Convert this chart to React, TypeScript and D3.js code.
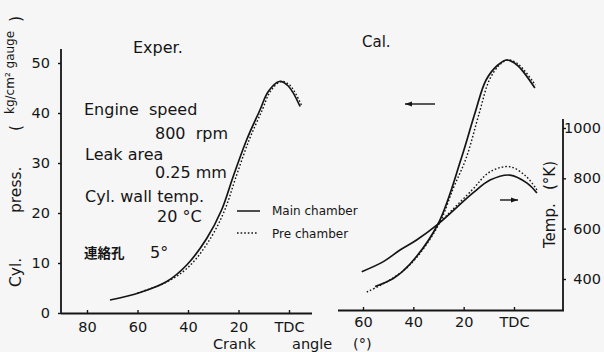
import * as d3 from 'd3'
import { useEffect, useRef } from 'react'

// Exper. (left panel): cylinder pressure vs crank angle (deg BTDC, negative = ATDC)
const expMainAngle = [70.9, 59, 48.4, 40.5, 32.6, 26.7, 22.1, 16.8, 11.5, 8.2, 3.8, 0.3, -4.4]
const expMainPress = [2.6, 4.1, 6.3, 9.6, 14.9, 20.6, 27.3, 34.6, 40.6, 44.3, 46.3, 45.4, 41.3]
const expPreAngle = [60, 48.4, 39.6, 31.5, 25.6, 21, 15.8, 10.6, 7.4, 3.2, -0.3, -4.9]
const expPrePress = [4.0, 6.2, 9.3, 14.6, 20.4, 27.2, 34.6, 40.6, 44.3, 46.3, 45.6, 41.6]

// Cal. (right panel): pressure
const calMainAngle = [55.2, 48, 41.3, 30.2, 20.9, 15.5, 11.1, 6.4, 2.8, -1.2, -8.3]
const calMainPress = [4.7, 6.3, 9.2, 17.2, 30.4, 39.4, 46, 49, 50, 49, 44.4]
const calPreAngle = [58.5, 50, 41, 30, 24, 19, 13.8, 9.8, 5.8, 2.6, -1.4, -8.5]
const calPrePress = [3.6, 5.8, 9.2, 17.0, 24.5, 30.4, 39.4, 46, 49, 50, 49.3, 45]

// Cal. (right panel): temperature (K)
const tempMainAngle = [60.5, 51.9, 45.3, 38.7, 30.2, 16.3, 9.5, 1.6, -5.2, -9.1]
const tempMainK = [429, 469, 515, 555, 618, 742, 793, 813, 781, 742]
const tempPreAngle = [30.2, 17, 9.5, 1.6, -5, -9.1]
const tempPreK = [618, 750, 826, 846, 806, 754]

const pressTicks = [0, 10, 20, 30, 40, 50]
const expAngleTicks = [80, 60, 40, 20, 0]
const calAngleTicks = [60, 40, 20, 0]
const tempTicks = [400, 600, 800, 1000]

const FONT = "'DejaVu Sans', sans-serif"
const INK = '#151515'
const NB = '\u00a0'

function zip(a: number[], b: number[]) {
  return a.map((v, i) => [v, b[i]] as [number, number])
}

function makeChart(node: SVGSVGElement) {
  const svg = d3.select(node)
  svg.selectAll('*').remove()

  svg.append('rect').attr('width', 604).attr('height', 352).attr('fill', '#f6f6f6')

  const xL = d3.scaleLinear().domain([0, 80]).range([289, 87])
  const yL = d3.scaleLinear().domain([0, 50]).range([313, 63])
  const xR = d3.scaleLinear().domain([0, 60]).range([514, 363])
  const yR = d3.scaleLinear().domain([0, 50]).range([310, 60])
  const yT = d3.scaleLinear().domain([400, 1000]).range([279, 128])

  const g = svg.append('g').attr('font-family', FONT).attr('fill', INK)

  // axis lines
  const axisLine = (x1: number, y1: number, x2: number, y2: number) =>
    g.append('line').attr('x1', x1).attr('y1', y1).attr('x2', x2).attr('y2', y2)
      .attr('stroke', INK).attr('stroke-width', 1.8)
  axisLine(61, 313.5, 312, 313.5)
  axisLine(61, 49, 61, 314)
  axisLine(338, 310.5, 564, 310.5)
  axisLine(563, 119, 563, 311)

  const fmtAngle = (d: d3.NumberValue) => (+d === 0 ? 'TDC' : String(d))

  const styleAxis = (sel: d3.Selection<SVGGElement, unknown, null, undefined>) => {
    sel.select('.domain').remove()
    sel.selectAll('line').attr('stroke', INK).attr('stroke-width', 1.4)
    sel.selectAll('text').attr('fill', INK).attr('font-family', FONT).attr('font-size', 14.5)
  }

  g.append('g').attr('transform', 'translate(0,313)')
    .call(d3.axisBottom(xL).tickValues(expAngleTicks).tickSize(-3).tickSizeOuter(0).tickPadding(8.7).tickFormat(fmtAngle))
    .call(styleAxis)
  g.append('g').attr('transform', 'translate(0,310)')
    .call(d3.axisBottom(xR).tickValues(calAngleTicks).tickSize(-3).tickSizeOuter(0).tickPadding(6.7).tickFormat(fmtAngle))
    .call(styleAxis)
  g.append('g').attr('transform', 'translate(61,0)')
    .call(d3.axisLeft(yL).tickValues(pressTicks).tickSize(3).tickSizeOuter(0).tickPadding(8))
    .call(styleAxis)
  const tAx = g.append('g').attr('transform', 'translate(563,0)')
    .call(d3.axisRight(yT).tickValues(tempTicks).tickSize(3).tickSizeOuter(0).tickPadding(3).tickFormat(d3.format('d')))
    .call(styleAxis)
  tAx.selectAll('text').attr('text-anchor', 'end').attr('x', 38)

  // curves
  const lineL = d3.line<[number, number]>().x(d => xL(d[0])).y(d => yL(d[1])).curve(d3.curveCatmullRom.alpha(0.5))
  const lineR = d3.line<[number, number]>().x(d => xR(d[0])).y(d => yR(d[1])).curve(d3.curveCatmullRom.alpha(0.5))
  const lineT = d3.line<[number, number]>().x(d => xR(d[0])).y(d => yT(d[1])).curve(d3.curveCatmullRom.alpha(0.5))

  const curve = (d: string | null, dotted: boolean) =>
    g.append('path').attr('d', d).attr('fill', 'none').attr('stroke', INK)
      .attr('stroke-width', dotted ? 1.4 : 1.7)
      .attr('stroke-dasharray', dotted ? '1.6,2' : null)

  curve(lineL(zip(expMainAngle, expMainPress)), false)
  curve(lineL(zip(expPreAngle, expPrePress)), true)
  curve(lineR(zip(calMainAngle, calMainPress)), false)
  curve(lineR(zip(calPreAngle, calPrePress)), true)
  curve(lineT(zip(tempMainAngle, tempMainK)), false)
  curve(lineT(zip(tempPreAngle, tempPreK)), true)

  // legend
  g.append('line').attr('x1', 237).attr('x2', 260).attr('y1', 211).attr('y2', 211).attr('stroke', INK).attr('stroke-width', 1.5)
  g.append('line').attr('x1', 237).attr('x2', 258).attr('y1', 233).attr('y2', 233).attr('stroke', INK).attr('stroke-width', 1.4).attr('stroke-dasharray', '1.6,2')
  g.append('text').attr('x', 272).attr('y', 215).attr('font-size', 12).text('Main chamber')
  g.append('text').attr('x', 272).attr('y', 238).attr('font-size', 12).text('Pre chamber')

  // arrows
  const arrow = (x1: number, x2: number, y: number) => {
    g.append('line').attr('x1', x1).attr('x2', x2).attr('y1', y).attr('y2', y).attr('stroke', INK).attr('stroke-width', 1.4)
    const s = x2 > x1 ? -1 : 1
    g.append('path').attr('d', `M${x2},${y}L${x2 + s * 7},${y - 2.5}L${x2 + s * 7},${y + 2.5}Z`).attr('fill', INK)
  }
  arrow(435, 405, 104)
  arrow(500, 518, 200)

  // texts
  const txt = (x: number, y: number, s: string, size: number) =>
    g.append('text').attr('x', x).attr('y', y).attr('font-size', size).text(s)
  txt(133, 53, 'Exper.', 16)
  txt(362, 47, 'Cal.', 15)
  txt(84, 115, `Engine${NB} speed`, 16)
  txt(155, 139, `800${NB} rpm`, 16)
  txt(85, 160, 'Leak area', 16)
  txt(155, 178, '0.25 mm', 16)
  txt(85, 202, 'Cyl. wall temp.', 16)
  txt(157, 222, '20 °C', 16)
  g.append('text').attr('x', 84).attr('y', 258).attr('font-size', 13.5).attr('font-weight', 'bold')
    .attr('font-family', "'Noto Sans CJK JP', sans-serif").text('連絡孔')
  txt(150, 258, '5°', 16)

  txt(213, 349, 'Crank', 14.5)
  txt(292, 349, 'angle', 14.5)
  txt(353, 349, '(°)', 14.5)

  // left y label (rotated)
  const yl = g.append('g').attr('transform', 'translate(21,0) rotate(-90)')
  yl.append('text').attr('x', -287).attr('y', 0).attr('font-size', 15.5).text('Cyl.')
  yl.append('text').attr('x', -213).attr('y', 0).attr('font-size', 15.5).text('press.')
  yl.append('text').attr('x', -131).attr('y', 0).attr('font-size', 15.5).text('(')
  yl.append('text').attr('x', -114).attr('y', -7).attr('font-size', 12).text('kg/cm² gauge')
  yl.append('text').attr('x', -22).attr('y', 0).attr('font-size', 15.5).text(')')

  // right y label (rotated)
  const tl = g.append('g').attr('transform', 'translate(555,0) rotate(-90)')
  tl.append('text').attr('x', -248).attr('y', 0).attr('font-size', 15).text('Temp.')
  tl.append('text').attr('x', -190).attr('y', 0).attr('font-size', 15).text('(°K)')
}

export default function App() {
  const ref = useRef<SVGSVGElement>(null)
  useEffect(() => {
    if (ref.current) makeChart(ref.current)
  }, [])
  return (
    <svg ref={ref} width={604} height={352} style={{ position: 'absolute', left: 0, top: 0 }} />
  )
}
